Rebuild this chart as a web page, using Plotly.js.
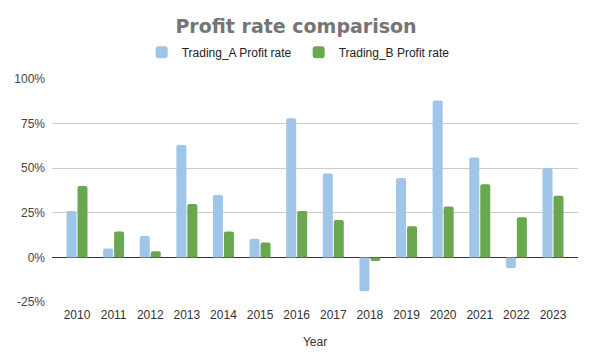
<!DOCTYPE html>
<html><head><meta charset="utf-8">
<script src="https://cdn.plot.ly/plotly-3.0.1.min.js"></script>
<style>html,body{margin:0;padding:0;background:#fff}#chart{width:592px;height:362px}</style>
</head><body><div id="chart"></div>
<script>
var years = ['2010','2011','2012','2013','2014','2015','2016','2017','2018','2019','2020','2021','2022','2023'];
var tradingA = [0.26, 0.05, 0.12, 0.63, 0.35, 0.105, 0.78, 0.47, -0.19, 0.445, 0.88, 0.56, -0.06, 0.50];
var tradingB = [0.40, 0.145, 0.035, 0.30, 0.145, 0.083, 0.26, 0.21, -0.02, 0.175, 0.285, 0.41, 0.225, 0.345];
var yTicks = [-0.25, 0, 0.25, 0.5, 0.75, 1];
var yTickLabels = ['-25%', '0%', '25%', '50%', '75%', '100%'];

var font = 'Liberation Sans, Arial, sans-serif';
var traces = [
  {type:'bar', name:'Trading_A Profit rate', x:years, y:tradingA,
   marker:{color:'#9fc5e8', cornerradius:2}, hoverinfo:'x+y'},
  {type:'bar', name:'Trading_B Profit rate', x:years, y:tradingB,
   marker:{color:'#6aa84f', cornerradius:2}, hoverinfo:'x+y'}
];
var layout = {
  width:592, height:362,
  margin:{l:52, r:14, t:79, b:60},
  paper_bgcolor:'#fff', plot_bgcolor:'#fff',
  title:{text:'<b>Profit rate comparison</b>', font:{family:'DejaVu Sans, sans-serif', size:19, color:'#757575'},
         x:0.5, xanchor:'center', y:0.928, yanchor:'middle'},
  showlegend:true,
  legend:{orientation:'h', x:0.1705, xanchor:'left', y:1.12, yanchor:'middle', entrywidth:112,
          font:{family:font, size:12, color:'#222'}, itemclick:false},
  barmode:'group', bargap:0.4, bargroupgap:0.09,
  xaxis:{type:'category', range:[-0.683, 13.683], showgrid:false, showline:false,
         ticks:'outside', ticklen:2, tickcolor:'rgba(0,0,0,0)',
         tickfont:{family:font, size:12, color:'#333'}, fixedrange:true,
         title:{text:'Year', font:{family:font, size:12, color:'#333'}, standoff:16}},
  yaxis:{range:[-0.25, 1], tickvals:yTicks, ticktext:yTickLabels, showgrid:true, gridcolor:'#cccccc',
         gridwidth:1, zeroline:true, zerolinecolor:'#333333', zerolinewidth:1, showline:false, ticks:'',
         ticklabelstandoff:6, tickfont:{family:font, size:12, color:'#444'}, fixedrange:true}
};
Plotly.newPlot('chart', traces, layout, {displayModeBar:false});
</script></body></html>
